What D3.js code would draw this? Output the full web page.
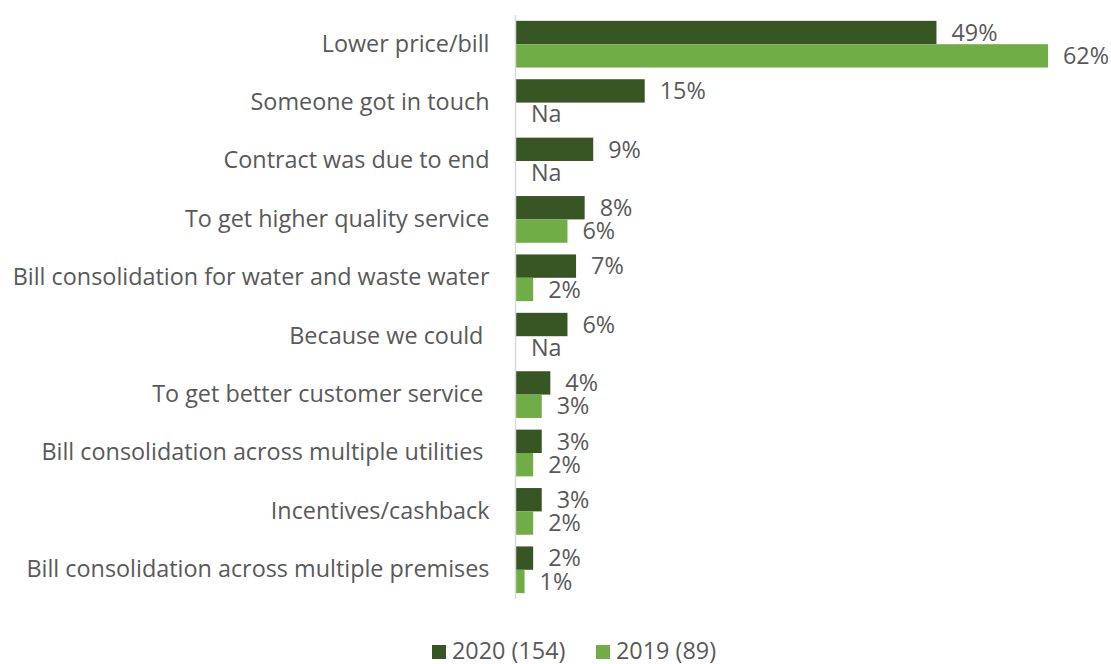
<!DOCTYPE html>
<html>
<head>
<meta charset="utf-8">
<script src="https://cdn.jsdelivr.net/npm/d3@7"></script>
<style>
  html, body { margin: 0; padding: 0; background: #fff; }
  svg { display: block; font-family: "Open Sans", sans-serif; }
  text { white-space: pre; }
</style>
</head>
<body>
<svg id="chart" width="1111" height="664"></svg>
<script>
// Reasons for switching supplier, share of respondents (%)
const categories = [
  "Lower price/bill",
  "Someone got in touch",
  "Contract was due to end",
  "To get higher quality service",
  "Bill consolidation for water and waste water",
  "Because we could ",
  "To get better customer service ",
  "Bill consolidation across multiple utilities ",
  "Incentives/cashback",
  "Bill consolidation across multiple premises"
];
const values2020 = [49, 15, 9, 8, 7, 6, 4, 3, 3, 2];
const values2019 = [62, null, null, 6, 2, null, 3, 2, 2, 1];
const seriesNames = ["2020 (154)", "2019 (89)"];
const seriesColors = ["#375623", "#70AD47"];

const svg = d3.select("#chart");
const textColor = "#595959";

// size the text so the longest category label spans the left margin
const probe = svg.append("text").attr("font-size", 20).text(categories[4]);
const fontSize = 20 * 477 / probe.node().getComputedTextLength();
probe.remove();

const x = d3.scaleLinear().domain([0, 62]).range([516, 1048]);
const y = d3.scaleBand().domain(categories).range([15, 599])
  .paddingInner(0.2).paddingOuter(0.1);
const sub = d3.scaleBand().domain([0, 1]).range([0, y.bandwidth()]);

const rows = categories.map((c, i) => ({
  cat: c,
  vals: [values2020[i], values2019[i]]
}));

const g = svg.append("g");

// bars and value labels
rows.forEach(r => {
  r.vals.forEach((v, s) => {
    const top = y(r.cat) + sub(s);
    if (v != null) {
      g.append("rect")
        .attr("x", x(0))
        .attr("y", top)
        .attr("width", x(v) - x(0))
        .attr("height", sub.bandwidth())
        .attr("fill", seriesColors[s]);
    }
    g.append("text")
      .attr("x", (v != null ? x(v) : x(0)) + 15)
      .attr("y", top + sub.bandwidth() / 2)
      .attr("dy", "0.35em")
      .attr("fill", textColor)
      .attr("font-size", fontSize)
      .text(v != null ? v + "%" : "Na");
  });
});

// category axis
const axis = d3.axisLeft(y).tickSize(0).tickPadding(26);
const ax = svg.append("g").attr("transform", `translate(${x(0) - 0.5},0)`).call(axis);
ax.select(".domain").attr("stroke", "#d9d9d9").attr("stroke-width", 1.5)
  .attr("d", "M0,15V599");
ax.selectAll(".tick text")
  .attr("fill", textColor)
  .attr("font-size", fontSize)
  .attr("font-family", "'Open Sans', sans-serif");

// legend
const legend = svg.append("g");
const legendX = [432, 596];
seriesNames.forEach((name, i) => {
  legend.append("rect")
    .attr("x", legendX[i]).attr("y", 645)
    .attr("width", 14).attr("height", 14)
    .attr("fill", seriesColors[i]);
  legend.append("text")
    .attr("x", legendX[i] + 20).attr("y", 650.5)
    .attr("dy", "0.35em")
    .attr("fill", textColor)
    .attr("font-size", fontSize)
    .text(name);
});
</script>
</body>
</html>
